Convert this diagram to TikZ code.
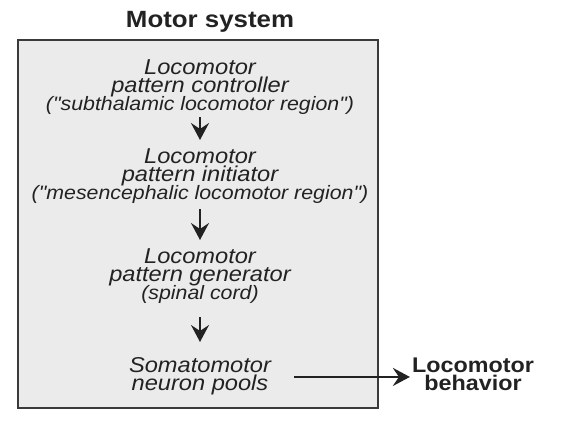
\documentclass[tikz,border=0pt]{standalone}
\usepackage{fontspec}
\usetikzlibrary{arrows.meta}
\newfontfamily\hv[FakeStretch=1.1]{Liberation Sans}
\newcommand{\smtxt}{\fontsize{19.4}{18}\selectfont}
\newcommand{\tightlines}{\lineskiplimit=-30pt\relax\lineskip=0pt\relax}
\definecolor{ink}{HTML}{222222}
\definecolor{boxfill}{HTML}{EBEBEB}
\definecolor{boxline}{HTML}{3A3A3A}
\begin{document}
\begin{tikzpicture}[x=1pt,y=-1pt,
  blk/.style={inner sep=0pt, align=center, text=ink, font={\hv\itshape\fontsize{21.5}{18}\selectfont\tightlines}},
  ttl/.style={inner sep=0pt, text=ink, font={\hv\bfseries\fontsize{23.5}{20}\selectfont}},
  outb/.style={inner sep=0pt, align=center, text=ink, font={\hv\bfseries\fontsize{21.2}{18}\selectfont\tightlines}},
  sysbox/.style={draw=boxline, fill=boxfill, line width=1.5pt, inner sep=0pt, minimum width=360pt, minimum height=368pt},
  arr/.style={draw=ink, line width=2.4pt, -{Stealth[length=17pt,width=18pt,inset=6pt]}}]
\useasboundingbox (0,0) rectangle (566,426);
\node[ttl, anchor=base] (title) at (210,27) {Motor system};
\node[sysbox, anchor=north west] (sys) at (17,39) {};
\node[blk, anchor=north] (b1) at (200,59.5) {Locomotor\\pattern controller\\{\smtxt("subthalamic locomotor region")}};
\node[blk, anchor=north] (b2) at (200,149) {Locomotor\\pattern initiator\\{\smtxt("mesencephalic locomotor region")}};
\node[blk, anchor=north] (b3) at (200,249) {Locomotor\\pattern generator\\{\smtxt(spinal cord)}};
\node[blk, anchor=north] (b4) at (200,357) {Somatomotor\\neuron pools};
\node[outb, anchor=north] (beh) at (473,358) {Locomotor\\behavior};
\draw[arr, shorten <=2.5pt, shorten >=9pt] (b1.south) -- (b2.north);
\draw[arr, shorten <=5pt, shorten >=9pt] (b2.south) -- (b3.north);
\draw[arr, shorten <=13pt, shorten >=15pt] (b3.south) -- (b4.north);
\draw[arr, shorten <=23pt, shorten >=2pt] ([yshift=-1pt]b4.east) -- ([yshift=-1pt]b4.east -| beh.west);
\end{tikzpicture}
\end{document}
